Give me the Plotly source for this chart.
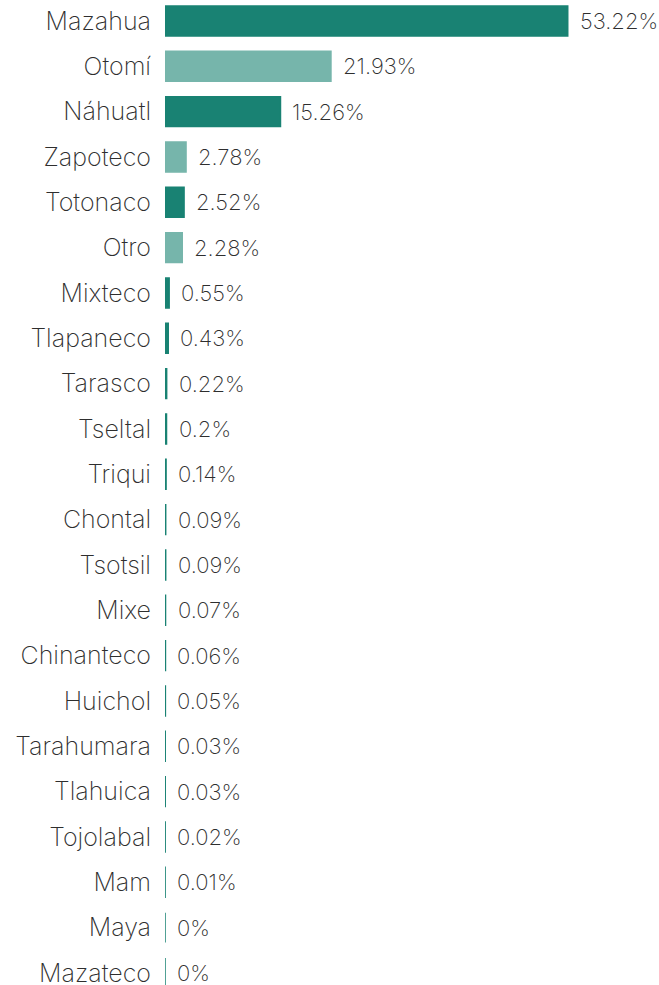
import plotly.graph_objects as go

categories = ["Mazahua", "Otomí", "Náhuatl", "Zapoteco", "Totonaco", "Otro", "Mixteco",
              "Tlapaneco", "Tarasco", "Tseltal", "Triqui", "Chontal", "Tsotsil", "Mixe",
              "Chinanteco", "Huichol", "Tarahumara", "Tlahuica", "Tojolabal", "Mam", "Maya", "Mazateco"]
values = [53.22, 21.93, 15.26, 2.78, 2.52, 2.28, 0.55, 0.43, 0.22, 0.2, 0.14, 0.09, 0.09,
          0.07, 0.06, 0.05, 0.03, 0.03, 0.02, 0.01, 0, 0]
labels = ["53.22%", "21.93%", "15.26%", "2.78%", "2.52%", "2.28%", "0.55%", "0.43%", "0.22%",
          "0.2%", "0.14%", "0.09%", "0.09%", "0.07%", "0.06%", "0.05%", "0.03%", "0.03%",
          "0.02%", "0.01%", "0%", "0%"]

DARK = "#198273"
LIGHT = "#76b5ab"
colors = [DARK if (i % 2 == 0 or i >= 6) else LIGHT for i in range(len(categories))]

FONT = "Inter"
TXT = "#2e2e2e"

fig = go.Figure()
fig.add_trace(go.Bar(
    x=values, y=categories, orientation="h",
    marker=dict(color=colors, line=dict(color=colors, width=1.5)),
    hoverinfo="skip",
))

for c, v, t in zip(categories, values, labels):
    fig.add_annotation(x=v, y=c, text=t, showarrow=False, xanchor="left", xshift=10,
                       font=dict(family=FONT, size=22, color=TXT, weight=200))

fig.update_layout(
    width=659, height=985,
    margin=dict(l=165, r=0, t=0, b=0),
    plot_bgcolor="white", paper_bgcolor="white",
    bargap=0.34,
    showlegend=False,
    xaxis=dict(range=[0, 65.28], visible=False, fixedrange=True),
    yaxis=dict(range=[21.265, -0.463], showgrid=False, zeroline=False, showline=False,
               ticks="", ticklabelstandoff=13, automargin=False,
               tickfont=dict(family=FONT, size=25, color=TXT, weight=200)),
)

fig.write_html("out.html", config={"displayModeBar": False},
               post_script="document.body.style.margin='0';")
